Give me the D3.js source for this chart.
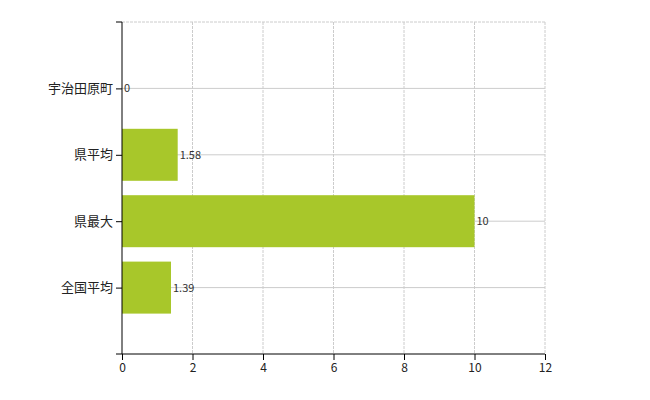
<!DOCTYPE html>
<html><head><meta charset="utf-8">
<script src="https://cdn.jsdelivr.net/npm/d3@7"></script>
<style>body{margin:0;background:#fff}</style>
</head><body>
<svg id="chart" width="650" height="400"></svg>
<script>
const categories = ['宇治田原町', '県平均', '県最大', '全国平均'];
const values = [0, 1.58, 10, 1.39];
const xTicks = [0, 2, 4, 6, 8, 10, 12];

(function () {
const svg = d3.select('#chart');
const mLeft = 122, mRight = 545, mTop = 22, mBottom = 354;
const font = '"Noto Sans CJK JP", "Noto Sans", sans-serif';

const x = d3.scaleLinear().domain([0, 12]).range([mLeft, mRight]);
const y = d3.scalePoint().domain(categories).range([mTop, mBottom]).padding(1);
const barH = 52;

// vertical dashed grid
svg.append('g').selectAll('line').data(xTicks.slice(1)).join('line')
  .attr('x1', d => x(d)).attr('x2', d => x(d)).attr('y1', mTop).attr('y2', mBottom)
  .attr('stroke', '#ccc').attr('stroke-dasharray', '3,1');
// top dashed line
svg.append('line').attr('x1', mLeft).attr('x2', mRight).attr('y1', mTop).attr('y2', mTop)
  .attr('stroke', '#ccc').attr('stroke-dasharray', '3,1');
// horizontal grid at categories
svg.append('g').selectAll('line').data(categories).join('line')
  .attr('x1', mLeft).attr('x2', mRight).attr('y1', d => y(d)).attr('y2', d => y(d))
  .attr('stroke', '#ccc');

svg.append('g').selectAll('rect').data(values).join('rect')
  .attr('x', x(0)).attr('y', (d, i) => y(categories[i]) - barH / 2)
  .attr('width', d => x(d) - x(0)).attr('height', barH)
  .attr('fill', '#a8c72a');

svg.append('g').selectAll('text').data(values).join('text')
  .attr('x', d => x(d) + 2).attr('y', (d, i) => y(categories[i]) + 4)
  .attr('font-size', 11).attr('font-family', font).attr('fill', '#333')
  .text(d => d);

const xAxis = svg.append('g').attr('transform', `translate(0,${mBottom})`)
  .call(d3.axisBottom(x).tickValues(xTicks).tickSize(6).tickSizeOuter(0));
xAxis.select('.domain').attr('d', `M${mLeft - 6},0H${mRight}`);
xAxis.selectAll('text').attr('font-size', 12).attr('font-family', font).attr('fill', '#222');

const yAxis = svg.append('g').attr('transform', `translate(${mLeft},0)`)
  .call(d3.axisLeft(y).tickSize(6).tickSizeOuter(0));
yAxis.select('.domain').attr('d', `M0,${mTop}V${mBottom}`);
yAxis.append('line').attr('x1', -6).attr('x2', 0).attr('y1', mTop).attr('y2', mTop).attr('stroke', '#000');
yAxis.selectAll('text').attr('font-size', 13).attr('font-family', font).attr('fill', '#222');
})();
</script>
</body></html>
